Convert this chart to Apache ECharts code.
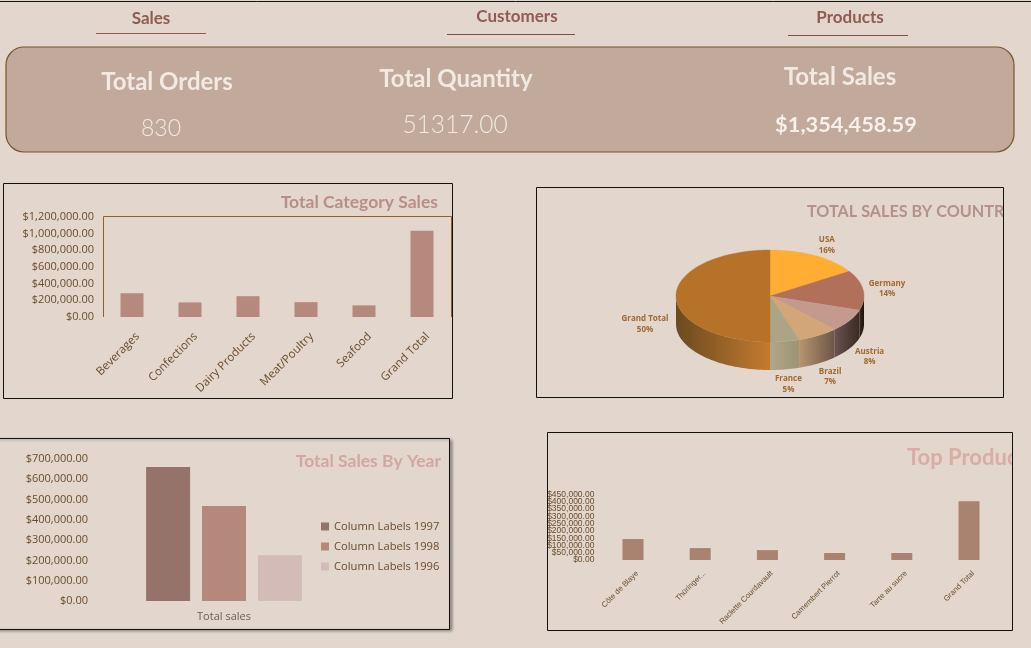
<!DOCTYPE html>
<html><head><meta charset="utf-8">
<style>html,body{margin:0;padding:0;background:#e2d6cd}#c{width:1031px;height:648px}</style>
<script src="https://cdn.jsdelivr.net/npm/echarts@6/dist/echarts.min.js"></script>
</head><body><div id="c"></div>
<script>
const navLabels = ['Sales', 'Customers', 'Products'];
const kpiTitles = ['Total Orders', 'Total Quantity', 'Total Sales'];
const kpiValues = ['830', '51317.00', '$1,354,458.59'];

const categoryNames = ['Beverages', 'Confections', 'Dairy Products', 'Meat/Poultry', 'Seafood', 'Grand Total'];
const categorySales = [285000, 175000, 250000, 178000, 140000, 1035000];

const countryNames = ['USA', 'Germany', 'Austria', 'Brazil', 'France', 'Grand Total'];
const countryShares = [16, 14, 8, 7, 5, 50];
const countryColors = ['#ffad33', '#b0705a', '#c49a8f', '#d2a677', '#aba586', '#b7722a'];
const countryWalls = [
  ['#ffad33', '#ffad33'], ['#3a2a20', '#1c130e'], ['#6a5450', '#3a2a24'],
  ['#b89570', '#6d5648'], ['#b0a688', '#9c9474'], ['#6b4a1f', '#c47b30']
];

const yearGroup = ['Total sales'];
const sales1997 = [660000];
const sales1998 = [468000];
const sales1996 = [226000];

const productNames = ['Côte de Blaye', 'Thüringer...', 'Raclette Courdavault', 'Camembert Pierrot', 'Tarte au sucre', 'Grand Total'];
const productSales = [144000, 82000, 68000, 48000, 48000, 404000];
const productTicksEven = [0, 100000, 200000, 300000, 400000];
const productTicksOdd = [50000, 150000, 250000, 350000, 450000];

const BG = '#e2d6cd', FONT = 'Open Sans', HEAD = 'Lato', NARROW = 'Liberation Sans', TICK = '#6a4c2c';
const money = v => '$' + v.toLocaleString('en-US', {minimumFractionDigits: 2, maximumFractionDigits: 2});

const PIE = {cx: 770, cy: 296, rx: 94, ry: 46, depth: 28};
const pt = (a, r = 1, dy = 0) => [PIE.cx + PIE.rx * r * Math.sin(a), PIE.cy - PIE.ry * r * Math.cos(a) + dy];
const shareTotal = countryShares.reduce((s, v) => s + v, 0);
const cumulative = countryShares.reduce((acc, v) => (acc.push(acc[acc.length - 1] + v), acc), [0]);

function arcPoints(a0, a1) {
  const n = Math.max(2, Math.ceil((a1 - a0) / 0.03)), out = [];
  for (let i = 0; i <= n; i++) out.push(a0 + (a1 - a0) * i / n);
  return out;
}
function renderSlice(params, api) {
  const i = params.dataIndex;
  const a0 = cumulative[i] / shareTotal * 2 * Math.PI;
  const a1 = a0 + api.value(0) / shareTotal * 2 * Math.PI;
  const mid = (a0 + a1) / 2;
  const children = [];
  const w0 = Math.max(a0, Math.PI / 2), w1 = Math.min(a1, 3 * Math.PI / 2);
  if (w1 > w0) {
    const arc = arcPoints(w0, w1);
    const walls = countryWalls[i];
    const points = arc.map(a => pt(a)).concat(arc.slice().reverse().map(a => pt(a, 1, PIE.depth)));
    children.push({type: 'polygon', z2: 1, shape: {points},
      style: {fill: new echarts.graphic.LinearGradient(0, 0, 1, 0, [
        {offset: 0, color: walls[0]}, {offset: 1, color: walls[1]}
      ]), stroke: null}});
  }
  const top = [[PIE.cx, PIE.cy]].concat(arcPoints(a0, a1).map(a => pt(a)));
  children.push({type: 'polygon', z2: 2, shape: {points: top},
    style: {fill: countryColors[i], stroke: countryColors[i], lineWidth: 0.4}});
  const c = Math.cos(mid), s = Math.sin(mid);
  const lx = PIE.cx + (s < 0 ? 125 : 118) * s;
  const ly = PIE.cy + (c > 0 ? -58 * c : 28 - 61 * c);
  children.push({type: 'text', z2: 5, style: {
    x: lx, y: ly, text: countryNames[i] + '\n' + api.value(0) + '%',
    fill: '#a0692f', font: 'bold 8px "' + FONT + '"', lineHeight: 10.5,
    align: 'center', verticalAlign: 'middle'}});
  return {type: 'group', children};
}

const txt = (x, y, text, font, fill, align) => ({type: 'text', x, y, z: 5,
  style: {text, font, fill, align: align || 'center', verticalAlign: 'middle'}});
const frame = (x, y, width, height) => ({type: 'rect', z: 8, shape: {x, y, width, height},
  style: {fill: 'transparent', stroke: '#111', lineWidth: 1}});
const hline = (x1, x2, y, color) => ({type: 'line', z: 5, shape: {x1, y1: y, x2, y2: y}, style: {stroke: color, lineWidth: 1}});
const cover = (x, y, width, height) => ({type: 'rect', z: 7, shape: {x, y, width, height}, style: {fill: BG}});

const graphics = [
  hline(0, 1031, 1.5, '#111'),
  txt(151, 19, navLabels[0], `bold 17px "${HEAD}"`, '#8e5c50'),
  txt(517, 17, navLabels[1], `bold 17px "${HEAD}"`, '#8e5c50'),
  txt(850, 18, navLabels[2], `bold 17px "${HEAD}"`, '#8e5c50'),
  hline(96, 206, 33.5, '#8e5c50'), hline(447, 575, 34.5, '#7c5048'), hline(788, 908, 35.5, '#7c5048'),
  {type: 'rect', z: 1, shape: {x: 6, y: 47, width: 1008, height: 105, r: 18},
    style: {fill: '#c1a99b', stroke: '#77562a', lineWidth: 1.2}},
  txt(167, 82, kpiTitles[0], `bold 24px "${HEAD}"`, '#f2e9e3'),
  txt(456, 79, kpiTitles[1], `bold 24px "${HEAD}"`, '#f2e9e3'),
  txt(840, 77, kpiTitles[2], `bold 24px "${HEAD}"`, '#f2e9e3'),
  txt(161, 129, kpiValues[0], `300 23px "${HEAD}"`, '#f2e9e3'),
  txt(455, 125, kpiValues[1], `300 24.5px "${HEAD}"`, '#f2e9e3'),
  txt(846, 125, kpiValues[2], `bold 21.8px "${HEAD}"`, '#f7f0eb'),
  frame(3.5, 183.5, 449, 215),
  frame(536.5, 187.5, 467, 210),
  frame(547.5, 432.5, 465, 198),
  {type: 'rect', z: 0, shape: {x: -6, y: 438.5, width: 455.5, height: 191},
    style: {fill: BG, stroke: '#111', lineWidth: 1, shadowBlur: 3, shadowOffsetX: 2, shadowOffsetY: 1, shadowColor: 'rgba(0,0,0,0.35)'}},
  {type: 'polyline', z: 1, shape: {points: [[103.5, 317], [103.5, 216.5], [451.5, 216.5], [451.5, 317]]},
    style: {stroke: '#96602e', lineWidth: 1, fill: 'none'}},
  txt(438, 202, 'Total Category Sales', `bold 17.5px "${HEAD}"`, '#b78f88', 'right'),
  txt(807, 212, 'TOTAL SALES BY COUNTRY', `bold 16.2px "${HEAD}"`, '#b4918a', 'left'),
  txt(441, 461, 'Total Sales By Year', `bold 17.5px "${HEAD}"`, '#d0a8a0', 'right'),
  txt(907, 458, 'Top Products', `bold 22px "${HEAD}"`, '#d9aca4', 'left'),
  cover(1004, 188, 27, 209),
  cover(1013, 433, 18, 197)
];

const xAxisBase = (gridIndex, data, size, family, margin, pad) => ({
  type: 'category', gridIndex, data,
  axisLine: {show: false}, axisTick: {show: false},
  axisLabel: {interval: 0, rotate: 45, verticalAlign: 'top', color: TICK, fontFamily: family, fontSize: size, margin, padding: [pad, 0, 0, 0]}
});
const yAxisBase = (gridIndex, max, interval, size, margin, family, lineHeight, pad) => ({
  type: 'value', gridIndex, min: 0, max, interval,
  axisLine: {show: false}, axisTick: {show: false}, splitLine: {show: false},
  axisLabel: {color: TICK, fontFamily: family, fontSize: size, margin, lineHeight,
    padding: [pad, 0, 0, 0], formatter: money, hideOverlap: false, showMinLabel: true, showMaxLabel: true}
});
const yAxisCustom = (gridIndex, max, values, size, margin, family) => {
  const axis = yAxisBase(gridIndex, max, 50000, size, margin, family, size, 0);
  axis.position = 'left';
  axis.axisLabel.customValues = values;
  return axis;
};

const option = {
  animation: false,
  backgroundColor: BG,
  textStyle: {fontFamily: FONT},
  graphic: graphics,
  grid: [
    {left: 103, top: 217, width: 348, height: 100},
    {left: 100, top: 459, width: 248, height: 142},
    {left: 599.4, top: 494.5, width: 403.2, height: 65.5}
  ],
  xAxis: [
    xAxisBase(0, categoryNames, 11.5, FONT, 12, 2),
    {type: 'category', gridIndex: 1, data: yearGroup, axisLine: {show: false}, axisTick: {show: false},
      axisLabel: {color: '#6e5f55', fontFamily: FONT, fontSize: 11, margin: 10}},
    xAxisBase(2, productNames, 7.7, NARROW, 8, 2)
  ],
  yAxis: [
    yAxisBase(0, 1200000, 200000, 11, 9, FONT, 8, 8),
    yAxisBase(1, 700000, 100000, 11, 12, FONT, 10, 8),
    yAxisCustom(2, 450000, productTicksEven, 8.5, 5, NARROW),
    yAxisCustom(2, 450000, productTicksOdd, 8.5, 5, NARROW)
  ],
  legend: {
    left: 316, top: 516, orient: 'vertical', icon: 'rect', itemWidth: 8, itemHeight: 8, itemGap: 9,
    data: ['Column Labels 1997', 'Column Labels 1998', 'Column Labels 1996'],
    textStyle: {color: TICK, fontFamily: FONT, fontSize: 11.2}
  },
  series: [
    {type: 'bar', name: 'Category Sales', xAxisIndex: 0, yAxisIndex: 0, data: categorySales, barWidth: 23, itemStyle: {color: '#b5897e'}},
    {type: 'bar', name: 'Column Labels 1997', xAxisIndex: 1, yAxisIndex: 1, data: sales1997, barWidth: 44, barGap: '27%', itemStyle: {color: '#95736a'}},
    {type: 'bar', name: 'Column Labels 1998', xAxisIndex: 1, yAxisIndex: 1, data: sales1998, barWidth: 44, barGap: '27%', itemStyle: {color: '#b4897c'}},
    {type: 'bar', name: 'Column Labels 1996', xAxisIndex: 1, yAxisIndex: 1, data: sales1996, barWidth: 44, barGap: '27%', itemStyle: {color: '#d3bcb8'}},
    {type: 'bar', name: 'Product Sales', xAxisIndex: 2, yAxisIndex: 2, data: productSales, barWidth: 21, itemStyle: {color: '#a9836f'}},
    {type: 'custom', name: 'Sales by Country', coordinateSystem: 'none', renderItem: renderSlice,
      data: countryShares.map((v, i) => ({name: countryNames[i], value: [v]}))}
  ]
};
echarts.init(document.getElementById('c')).setOption(option);
</script></body></html>
